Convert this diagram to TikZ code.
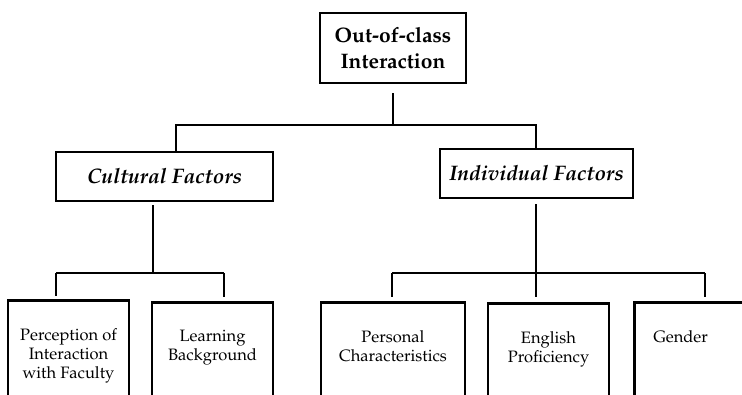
\documentclass[tikz,border=0pt]{standalone}
\usepackage[T1]{fontenc}
\usepackage{mathpazo}
\usepackage{tikz}
\usetikzlibrary{positioning}

\begin{document}
\begin{tikzpicture}[x=1pt,y=-1pt,
        box/.style={draw,line width=2.6pt,align=center,inner sep=0pt},
        root/.style={box,minimum width=146pt,minimum height=70pt,font=\fontsize{21}{26}\selectfont\bfseries},
        group/.style={box,minimum height=49pt,font=\fontsize{21}{25}\selectfont\bfseries\itshape},
        leaf/.style={box,anchor=north,inner ysep=28pt,text depth=150pt,font=\fontsize{16.5}{19}\selectfont},
        link/.style={line width=1.8pt}]
        \useasboundingbox (0,0) rectangle (742,394);
        \clip (0,0) rectangle (742,394);
        \node[root] (ooc) at (393,48) {Out-of-class\\Interaction};
        \node[group,minimum width=217pt] (cult) at (164.5,176.5) {Cultural Factors};
        \node[group,minimum width=193pt] (indiv) at (536.5,173.5) {Individual Factors};
        \node[leaf,minimum width=121pt] (perc) at (68.5,299) {Perception of\\Interaction\\with Faculty};
        \node[leaf,minimum width=121pt] (learn) at (212.5,301) {Learning\\Background};
        \node[leaf,minimum width=144pt] (pers) at (393,301) {Personal\\Characteristics};
        \node[leaf,minimum width=121pt] (engl) at (548.5,302) {English\\Proficiency};
        \node[leaf,anchor=north west,inner xsep=19pt,text width=100pt,align=left] (gend) at (633,301) {Gender};
        \coordinate (bus-l) at (176,125);
        \coordinate (bus-r) at (536,125);
        \coordinate (cbus-l) at (56,273);
        \coordinate (cbus-m) at (153,273);
        \coordinate (cbus-r) at (224,273);
        \coordinate (ibus-l) at (392,273);
        \coordinate (ibus-m) at (536,273);
        \coordinate (ibus-r) at (705,273);
        \draw[link,shorten <=9pt] (ooc.south) -- (ooc.south |- bus-l);
        \draw[link] (cult.north -| bus-l) -- (bus-l) -- (bus-r) -- (bus-r |- indiv.north);
        \draw[link,shorten <=3pt] (cult.south -| cbus-m) -- (cbus-m);
        \draw[link] (cbus-l) -- (cbus-r);
        \draw[link,shorten >=3pt] (cbus-l) -- (cbus-l |- perc.north);
        \draw[link,shorten >=4pt] (cbus-r) -- (cbus-r |- learn.north);
        \draw[link,shorten <=5pt] (indiv.south -| ibus-m) -- (ibus-m);
        \draw[link] (ibus-l) -- (ibus-r);
        \draw[link,shorten >=4pt] (ibus-l) -- (ibus-l |- pers.north);
        \draw[link,shorten >=5pt] (ibus-m) -- (ibus-m |- engl.north);
        \draw[link,shorten >=4pt] (ibus-r) -- (ibus-r |- gend.north);
\end{tikzpicture}
\end{document}
